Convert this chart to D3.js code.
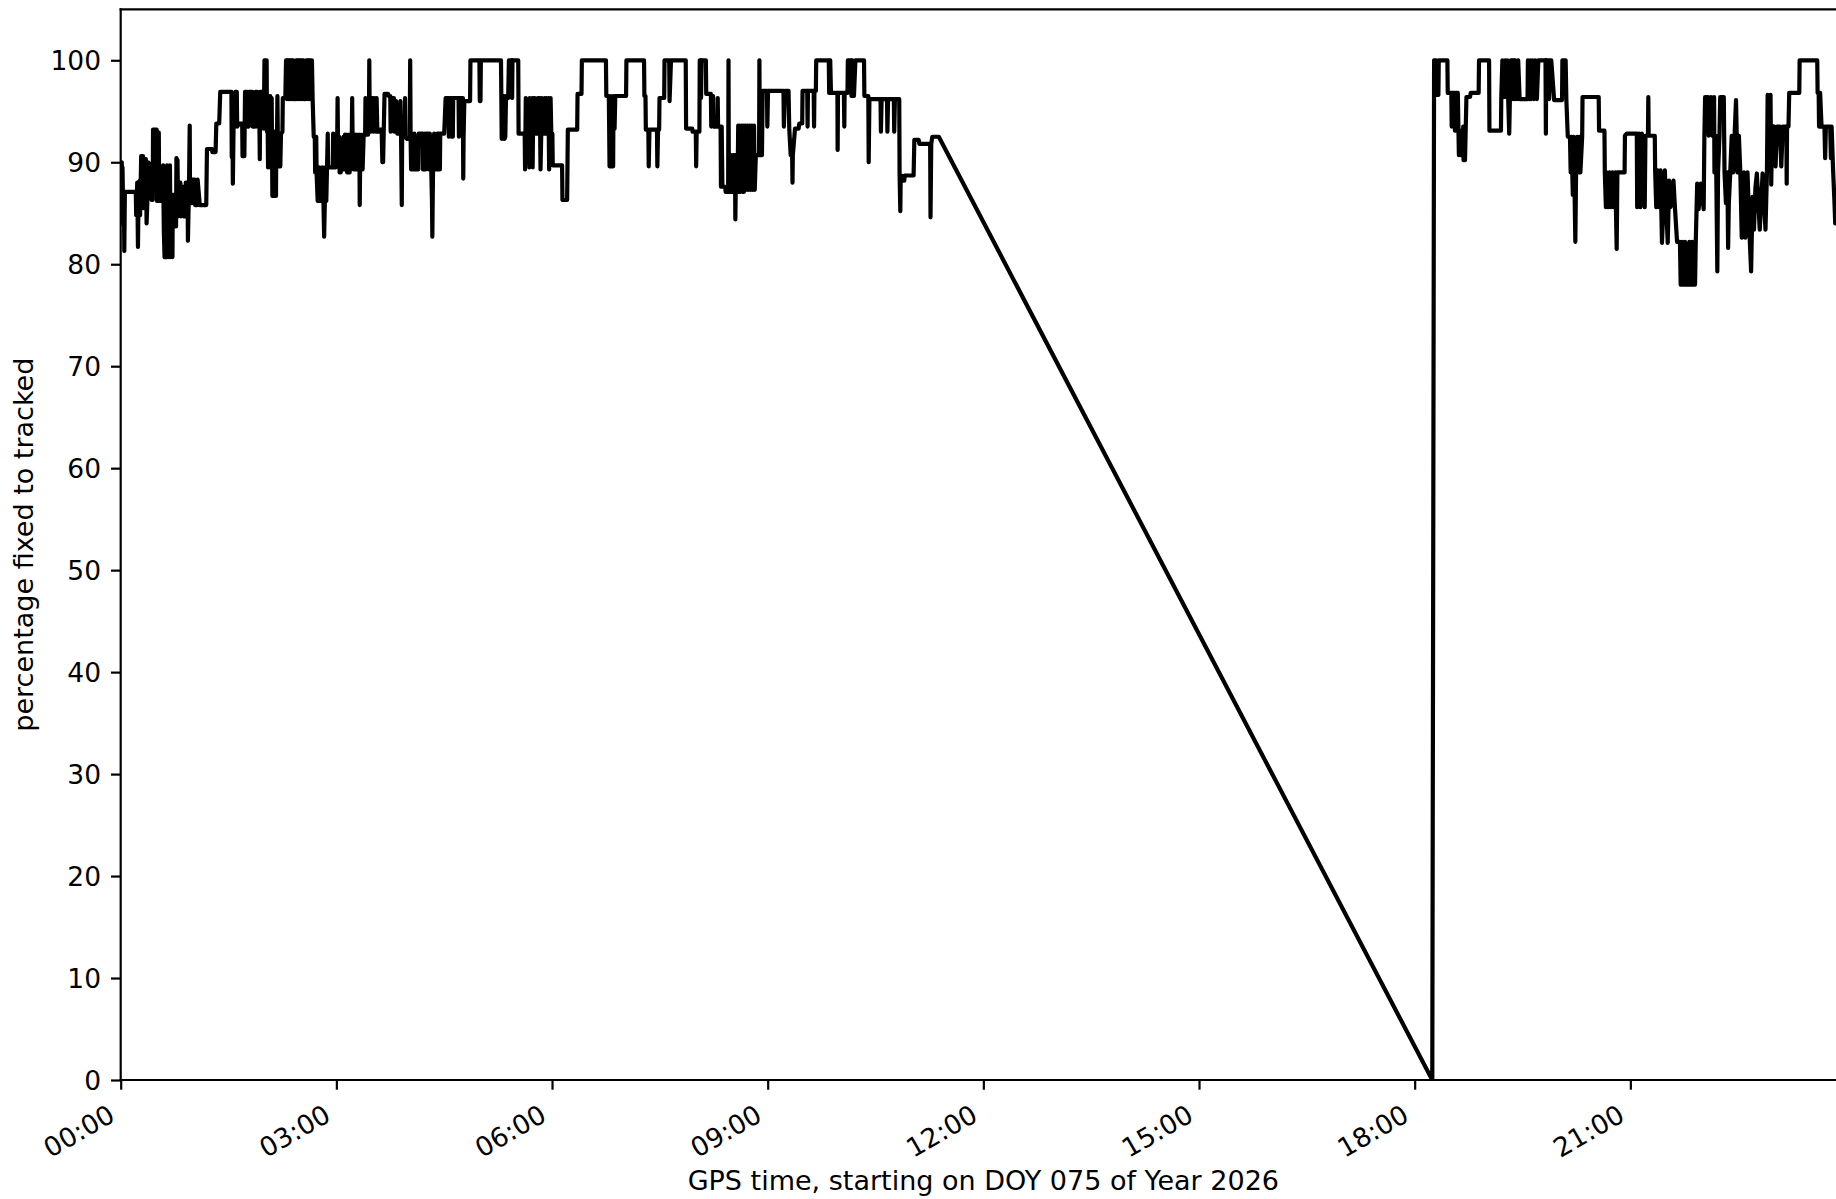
<!DOCTYPE html>
<html><head><meta charset="utf-8">
<script src="https://cdn.jsdelivr.net/npm/d3@7"></script>
<style>html,body{margin:0;padding:0;background:#fff;overflow:hidden}svg{display:block}</style>
</head><body>
<script>
// ---- data (hours since 00:00 GPS, percentage fixed to tracked) ----
const yTicks = [0, 10, 20, 30, 40, 50, 60, 70, 80, 90, 100];
const xTickHours = [0, 3, 6, 9, 12, 15, 18, 21];
const xTickLabels = ["00:00", "03:00", "06:00", "09:00", "12:00", "15:00", "18:00", "21:00"];
const xAxisTitle = "GPS time, starting on DOY 075 of Year 2026";
const yAxisTitle = "percentage fixed to tracked";

const morning = [
[0.000,90.0],[0.015,90.0],[0.020,84.0],[0.025,89.5],[0.030,87.1],[0.045,87.1],[0.050,81.3],[0.058,87.1],[0.210,87.1],
[0.215,84.8],[0.230,88.0],[0.240,81.7],[0.250,88.0],[0.265,88.2],[0.270,84.8],[0.285,90.6],[0.310,90.6],[0.315,85.5],[0.325,90.3],[0.350,90.3],[0.360,84.0],[0.375,87.0],[0.380,90.0],[0.420,89.7],[0.430,86.3],[0.445,86.3],
[0.450,93.2],[0.500,93.2],[0.505,86.2],[0.510,92.9],[0.530,92.9],[0.535,86.2],[0.580,86.2],
[0.590,89.7],[0.600,83.3],[0.610,80.7],[0.640,80.7],[0.645,89.7],[0.655,80.7],[0.665,87.0],[0.675,80.7],[0.685,89.7],[0.695,80.7],[0.700,86.8],[0.720,80.7],[0.725,86.8],[0.750,86.8],[0.755,83.7],[0.770,83.7],
[0.775,90.4],[0.790,90.2],[0.800,84.7],[0.810,88.0],[0.830,88.0],[0.835,84.7],[0.850,87.6],[0.870,87.6],[0.875,84.7],[0.900,84.7],[0.905,88.0],[0.930,88.0],[0.935,82.3],[0.950,87.6],[0.960,93.6],[0.965,86.0],[0.985,86.0],
[1.000,88.3],[1.030,88.3],[1.035,85.8],[1.060,85.8],[1.070,88.3],[1.100,85.8],[1.190,85.8],[1.200,91.3],[1.270,91.3],[1.275,91.0],[1.320,91.0],
[1.330,93.8],[1.370,93.8],[1.385,96.9],[1.540,96.9],
[1.545,90.5],[1.555,93.5],[1.560,87.9],[1.570,93.5],[1.590,93.5],[1.595,96.9],[1.615,96.9],[1.620,93.5],[1.650,93.8],[1.690,93.8],[1.695,90.6],[1.720,90.6],
[1.730,96.9],[1.760,96.9],[1.765,93.5],[1.780,93.5],[1.785,96.9],[1.830,96.9],[1.835,93.5],[1.870,93.5],[1.875,96.9],[1.900,96.9],[1.905,93.5],[1.930,93.5],[1.935,90.3],[1.940,96.9],[1.960,96.9],
[1.990,93.3],[2.000,100],[2.030,100],[2.035,93.0],
[2.040,96.5],[2.050,89.5],[2.060,96.5],[2.070,93.0],[2.080,96.5],[2.090,89.5],[2.100,96.3],[2.110,86.7],[2.130,86.7],[2.135,93.0],[2.140,86.7],[2.160,86.7],
[2.165,92.5],[2.170,89.6],[2.180,96.5],[2.190,89.6],[2.200,92.8],[2.220,89.6],[2.230,92.8],[2.250,93.0],[2.255,96.3],[2.290,96.3],
[2.300,100],[2.310,96.2],[2.320,100],[2.330,96.2],[2.340,100],[2.350,96.2],[2.360,100],[2.370,96.2],[2.380,100],[2.390,96.2],[2.400,100],[2.410,96.2],[2.430,96.2],[2.440,100],[2.450,96.2],[2.460,100],[2.470,96.2],[2.480,100],[2.490,96.2],[2.500,100],[2.510,96.2],[2.520,100],[2.530,96.2],[2.540,100],[2.550,96.2],[2.570,96.2],[2.580,100],[2.600,100],[2.605,96.2],[2.620,100],[2.630,96.2],[2.640,100],[2.660,100],
[2.670,96.2],[2.685,92.5],[2.700,92.5],[2.705,89.0],[2.720,92.5],[2.725,88.9],
[2.740,86.2],[2.760,89.5],[2.770,86.2],[2.800,86.2],[2.805,89.5],[2.820,86.2],[2.830,82.7],[2.840,86.2],[2.850,89.5],[2.860,86.2],[2.870,89.5],
[2.880,92.8],[2.885,89.5],[2.950,89.5],[2.955,92.8],[2.965,89.5],[2.990,89.5],[2.995,92.8],[3.000,92.5],[3.012,92.5],[3.017,96.3],[3.022,92.5],
[3.040,92.5],[3.045,89.0],[3.060,89.0],[3.065,92.3],[3.080,92.3],[3.085,89.3],[3.100,92.5],[3.110,89.3],[3.120,92.7],[3.130,89.3],[3.140,92.7],[3.150,89.0],[3.160,92.7],[3.180,92.7],[3.185,89.0],[3.200,92.7],[3.215,92.7],[3.220,96.3],[3.225,92.7],[3.240,89.3],[3.250,92.7],[3.260,89.3],[3.270,92.7],[3.280,89.3],[3.290,92.7],[3.300,89.3],[3.320,92.7],[3.325,85.8],[3.330,89.3],[3.340,92.7],[3.360,92.7],[3.365,89.3],[3.380,92.7],[3.400,92.7],[3.405,96.3],[3.420,92.7],[3.440,92.7],[3.445,96.3],[3.455,96.3],[3.458,100],[3.462,96.3],[3.480,93.0],[3.490,96.3],[3.510,96.3],[3.515,93.0],[3.530,96.3],[3.550,93.0],[3.560,96.3],[3.570,93.0],[3.600,93.0],[3.605,93.2],[3.630,93.2],[3.640,90.0],[3.650,90.0],
[3.670,96.7],[3.720,96.7],[3.725,96.5],[3.750,96.5],[3.755,93.0],[3.760,96.3],[3.800,96.3],[3.805,93.0],[3.810,96.0],[3.830,96.0],[3.840,93.0],[3.850,92.8],[3.880,92.8],[3.890,96.0],[3.900,92.5],[3.910,85.8],[3.915,92.5],[3.950,92.5],[3.955,96.3],[3.960,92.5],[3.980,92.3],[4.020,92.3],[4.027,100],[4.033,92.3],
[4.040,89.3],[4.080,89.3],[4.085,92.8],[4.100,89.3],[4.140,89.3],[4.145,92.8],[4.200,92.8],[4.205,89.3],[4.220,92.8],[4.240,89.3],[4.250,92.8],[4.280,92.8],[4.285,89.3],[4.300,92.8],[4.320,89.3],[4.330,86.2],[4.335,82.7],[4.340,86.2],[4.345,89.3],[4.360,92.8],[4.370,89.3],[4.400,89.3],[4.405,92.8],[4.420,92.8],[4.425,89.3],[4.440,89.3],[4.445,92.8],[4.500,92.8],
[4.520,96.3],[4.560,96.3],[4.565,92.5],[4.575,96.3],[4.600,96.3],[4.605,92.5],[4.620,92.5],[4.625,96.3],[4.700,96.3],[4.705,92.5],[4.710,96.3],[4.760,96.3],[4.765,88.4],[4.770,92.5],[4.780,96.0],[4.860,96.0],[4.865,100],[4.990,100],[4.995,96.0],[5.005,96.0],[5.010,100],[5.290,100],
[5.295,96.3],[5.300,92.3],[5.310,96.3],[5.320,92.3],[5.330,96.5],[5.340,92.3],[5.350,92.5],[5.360,96.5],[5.390,96.3],[5.400,100],[5.440,100],[5.445,96.3],[5.450,100],[5.530,100],[5.535,92.8],[5.620,92.8],
[5.625,89.3],[5.635,96.3],[5.645,92.8],[5.680,92.8],[5.685,89.5],[5.690,96.3],[5.700,92.8],[5.720,92.8],[5.725,96.3],[5.730,89.5],[5.740,96.3],[5.750,92.8],[5.760,96.3],[5.770,92.8],[5.800,92.8],[5.805,96.3],[5.810,92.8],[5.830,96.3],[5.840,89.3],[5.850,92.8],[5.860,96.3],[5.880,92.8],[5.900,96.3],[5.910,92.8],[5.920,96.3],[5.940,92.8],[5.950,96.3],[5.960,89.3],[5.970,92.8],[5.980,96.3],[5.990,92.8],[6.005,92.8],[6.010,89.7],[6.140,89.7],[6.145,86.3],[6.210,86.3],[6.215,89.7],[6.220,93.2],[6.350,93.2],[6.355,96.7],[6.410,96.7],[6.415,100],[6.750,100]
];

const midday = [
[6.755,96.5],[6.790,96.5],[6.795,93.3],[6.800,89.6],[6.810,89.6],[6.815,93.3],[6.820,96.5],[6.830,93.3],[6.835,89.6],[6.850,89.6],[6.855,96.5],[6.870,93.3],[6.880,96.5],[7.030,96.5],[7.035,100],[7.280,100],[7.285,96.5],[7.300,96.5],[7.305,93.2],[7.340,93.2],[7.345,89.6],[7.355,93.2],[7.460,93.2],[7.465,89.6],[7.475,93.2],[7.490,93.2],[7.495,96.3],[7.560,96.3],[7.565,100],[7.630,100],[7.635,96.0],[7.655,100],[7.860,100],[7.865,93.3],[7.950,93.3],[7.955,93.0],[8.000,93.0],[8.005,89.6],[8.012,93.0],[8.050,93.0],[8.055,100],[8.070,100],[8.073,96.3],[8.080,100],[8.140,100],[8.145,96.7],[8.210,96.7],[8.215,93.5],[8.220,96.5],[8.240,96.5],[8.245,93.5],[8.300,93.5],[8.305,96.3],[8.310,93.5],[8.345,93.5],
[8.350,87.6],[8.360,93.5],[8.370,87.6],[8.410,87.6],[8.415,87.1],[8.450,87.1],[8.455,100],[8.460,87.1],[8.480,90.7],[8.490,87.1],[8.500,90.7],[8.510,87.1],[8.520,90.7],[8.530,87.1],[8.545,90.7],[8.550,84.4],[8.555,87.1],[8.570,90.7],[8.580,87.1],[8.590,93.6],[8.600,87.1],[8.610,93.6],[8.620,87.1],[8.640,93.6],[8.650,87.1],[8.660,93.6],[8.670,87.1],[8.690,93.6],[8.700,87.3],[8.720,93.6],[8.730,87.3],[8.750,93.6],[8.760,87.3],[8.780,93.6],[8.790,87.3],[8.810,93.6],[8.820,87.3],[8.835,90.7],[8.880,90.7],[8.885,100],[8.890,90.7],[8.920,90.7],
[8.930,97.0],[8.990,97.0],[8.995,93.5],[9.005,97.0],[9.220,97.0],[9.225,93.5],[9.240,97.0],[9.290,97.0],[9.300,93.3],[9.320,90.7],[9.340,90.7],[9.345,88.0],[9.350,90.7],[9.380,93.3],[9.430,93.3],[9.440,93.8],[9.480,93.8],[9.485,97.0],[9.550,97.0],[9.555,93.5],[9.560,97.0],[9.640,97.0],[9.645,93.5],[9.650,97.0],[9.670,97.0],[9.675,100],[9.850,100],[9.855,96.8],[9.870,100],[9.880,96.8],[9.970,96.8],[9.973,91.2],[9.978,96.8],[10.060,96.8],[10.066,93.5],[10.070,96.8],[10.110,96.8],[10.115,100],[10.160,100],[10.165,96.5],[10.180,100],[10.200,96.5],[10.220,100],[10.340,100],
[10.345,96.5],[10.400,96.5],[10.405,90.0],[10.415,96.2],[10.570,96.2],[10.575,93.0],[10.585,96.2],[10.660,96.2],[10.665,93.0],[10.675,96.2],[10.755,96.2],[10.760,93.0],[10.770,96.2],[10.830,96.2],[10.835,88.7],[10.845,85.2],[10.850,88.7],[10.860,88.7],[10.870,88.2],[10.900,88.2],[10.905,88.7],[11.030,88.7],[11.040,92.2],[11.100,92.2],[11.110,91.8],[11.260,91.8],[11.265,84.6],[11.275,91.8],[11.290,92.5],[11.380,92.5]
];

const outage = [[18.245,0]];

const evening = [
[18.270,100],[18.300,100],[18.305,96.6],[18.330,96.6],[18.335,100],[18.455,100],[18.460,96.8],[18.510,96.8],[18.515,93.5],[18.520,96.8],[18.555,96.8],[18.560,93.1],[18.570,96.8],[18.600,96.8],[18.615,90.7],[18.630,93.1],[18.640,90.7],[18.670,90.7],[18.675,93.5],[18.680,90.2],[18.690,93.5],[18.700,90.2],[18.720,96.4],[18.770,96.4],[18.780,96.8],[18.890,96.8],[18.895,100],[19.035,100],[19.040,93.1],[19.200,93.1],[19.205,96.4],[19.220,100],[19.240,96.4],[19.260,100],[19.280,96.4],[19.290,100],[19.300,96.4],[19.315,92.8],[19.325,96.4],[19.340,100],[19.350,96.2],[19.360,100],[19.370,96.2],[19.380,100],[19.390,96.2],[19.400,100],[19.420,96.2],[19.440,100],[19.460,96.2],[19.570,96.2],[19.575,100],[19.600,96.2],[19.610,100],[19.620,96.2],[19.640,100],[19.660,96.2],[19.680,100],[19.700,96.2],[19.720,100],[19.820,100],[19.825,92.8],[19.830,100],[19.860,100],[19.870,96.2],[19.880,100],[19.900,100],[19.940,96.1],[20.050,96.1],[20.055,100],[20.100,100],
[20.110,96.1],[20.130,92.5],[20.160,92.5],[20.170,89.0],[20.180,92.5],[20.200,86.8],[20.210,92.5],[20.220,89.0],[20.235,82.2],[20.245,89.0],[20.260,92.5],[20.280,89.0],[20.290,92.5],[20.300,92.5],[20.305,89.0],[20.330,92.5],[20.335,96.4],[20.560,96.4],[20.565,93.1],[20.640,93.1],
[20.645,89.0],[20.660,85.6],[20.670,89.0],[20.690,85.6],[20.710,89.0],[20.730,85.6],[20.750,89.0],[20.770,85.6],[20.790,89.0],[20.810,81.5],[20.820,89.0],[20.920,89.0],[20.925,92.6],[20.950,92.8],[21.090,92.8],[21.095,85.6],[21.120,92.8],[21.140,85.6],[21.160,92.8],[21.200,85.6],[21.210,92.6],[21.245,92.6],[21.250,96.4],[21.255,92.6],[21.340,92.6],
[21.345,89.2],[21.360,85.6],[21.380,89.2],[21.400,85.6],[21.420,89.2],[21.440,82.1],[21.460,85.6],[21.480,89.2],[21.500,85.6],[21.520,82.1],[21.540,88.2],[21.560,85.6],[21.600,88.2],[21.620,85.6],[21.650,82.2],[21.690,82.2],[21.700,78.0],[21.720,82.2],[21.740,78.0],[21.760,82.2],[21.780,78.0],[21.800,78.0],[21.820,82.2],[21.840,78.0],[21.860,82.2],[21.880,78.0],[21.900,78.0],[21.910,82.2],[21.930,87.9],[21.950,85.4],[21.980,87.9],[22.020,85.4],
[22.030,92.6],[22.040,96.4],[22.080,96.4],[22.090,92.6],[22.120,96.4],[22.140,92.6],[22.165,96.4],[22.170,89.0],[22.190,92.6],[22.210,79.3],[22.220,89.0],[22.240,92.6],[22.250,96.4],[22.300,96.4],[22.310,89.0],[22.330,86.0],[22.350,89.0],[22.360,81.6],[22.370,86.0],[22.390,89.0],[22.410,92.6],[22.430,89.0],[22.450,92.6],[22.470,96.1],[22.490,89.0],[22.510,92.6],[22.530,89.0],[22.550,82.6],[22.580,89.0],[22.600,82.6],[22.630,89.0],[22.660,82.6],[22.680,79.3],[22.700,86.6],[22.720,83.4],[22.740,87.5],[22.760,88.9],[22.800,83.4],[22.840,88.9],[22.880,83.4],[22.900,88.9],
[22.910,96.6],[22.930,92.8],[22.950,96.6],[22.960,87.8],[22.970,93.1],[23.000,93.5],[23.020,89.6],[23.040,93.5],[23.080,93.5],[23.100,89.6],[23.120,93.5],[23.170,93.5],[23.175,87.9],[23.180,93.5],[23.200,93.5],[23.210,96.8],[23.350,96.8],[23.355,100],[23.600,100],[23.605,96.8],[23.620,96.8],[23.625,93.5],[23.640,96.8],[23.660,93.5],[23.700,93.5],[23.710,90.4],[23.720,93.5],[23.780,93.5],[23.790,90.4],[23.800,93.5],[23.820,89.3],[23.840,86.0],[23.850,84.0],[23.900,84.0]
];

// ---- chart ----
const W = 1836, H = 1199;
const plot = {left: 120.7, top: 9.3, bottom: 1080, right: 1846};
const FONT = "'DejaVu Sans', sans-serif";
const FS_TICK = 26.5;
const FS_TITLE = 27;

const x = d3.scaleLinear().domain([0, 24]).range([plot.left, plot.right]);
const y = d3.scaleLinear().domain([0, 105]).range([plot.bottom, plot.top]);

const svg = d3.select("body").append("svg").attr("width", W).attr("height", H)
  .style("background", "#fff");

svg.append("defs").append("clipPath").attr("id", "clip")
  .append("rect").attr("x", plot.left).attr("y", plot.top)
  .attr("width", plot.right - plot.left).attr("height", plot.bottom - plot.top);

const series = [].concat(morning, midday, outage, evening);
const line = d3.line().x(d => x(d[0])).y(d => y(d[1]));
svg.append("path").datum(series)
  .attr("clip-path", "url(#clip)")
  .attr("fill", "none").attr("stroke", "#000").attr("stroke-width", 4.2)
  .attr("stroke-linejoin", "round").attr("stroke-linecap", "square")
  .attr("d", line);

// axes
const yAxis = d3.axisLeft(y).tickValues(yTicks).tickSize(9.7).tickPadding(10).tickFormat(d3.format("d"));
const gy = svg.append("g").attr("transform", `translate(${plot.left},0)`).call(yAxis);
gy.select(".domain").remove();
gy.selectAll(".tick line").attr("stroke", "#000").attr("stroke-width", 2.2);
gy.selectAll(".tick text").attr("font-family", FONT).attr("font-size", FS_TICK).attr("fill", "#000").attr("dy", "0.36em");

const xAxis = d3.axisBottom(x).tickValues(xTickHours).tickSize(9.7)
  .tickFormat((d, i) => xTickLabels[i]);
const gx = svg.append("g").attr("transform", `translate(0,${plot.bottom})`).call(xAxis);
gx.select(".domain").remove();
gx.selectAll(".tick line").attr("stroke", "#000").attr("stroke-width", 2.2);
gx.selectAll(".tick text").attr("font-family", FONT).attr("font-size", FS_TICK).attr("fill", "#000")
  .attr("y", null).attr("dy", null).attr("text-anchor", "end")
  .attr("transform", "translate(-4.5,40) rotate(-30)");

// spines
const sp = svg.append("g").attr("stroke", "#000").attr("stroke-width", 2.2).attr("stroke-linecap", "square");
sp.append("line").attr("x1", plot.left).attr("x2", plot.left).attr("y1", plot.top).attr("y2", plot.bottom);
sp.append("line").attr("x1", plot.left).attr("x2", plot.right).attr("y1", plot.bottom).attr("y2", plot.bottom);
sp.append("line").attr("x1", plot.left).attr("x2", plot.right).attr("y1", plot.top).attr("y2", plot.top);
sp.append("line").attr("x1", plot.right).attr("x2", plot.right).attr("y1", plot.top).attr("y2", plot.bottom);

// titles
svg.append("text").attr("x", (plot.left + plot.right) / 2).attr("y", 1190)
  .attr("text-anchor", "middle").attr("font-family", FONT).attr("font-size", FS_TITLE).attr("fill", "#000")
  .text(xAxisTitle);
svg.append("text").attr("transform", `translate(33,${(plot.top + plot.bottom) / 2}) rotate(-90)`)
  .attr("text-anchor", "middle").attr("font-family", FONT).attr("font-size", FS_TITLE).attr("fill", "#000")
  .text(yAxisTitle);
</script>
</body></html>
